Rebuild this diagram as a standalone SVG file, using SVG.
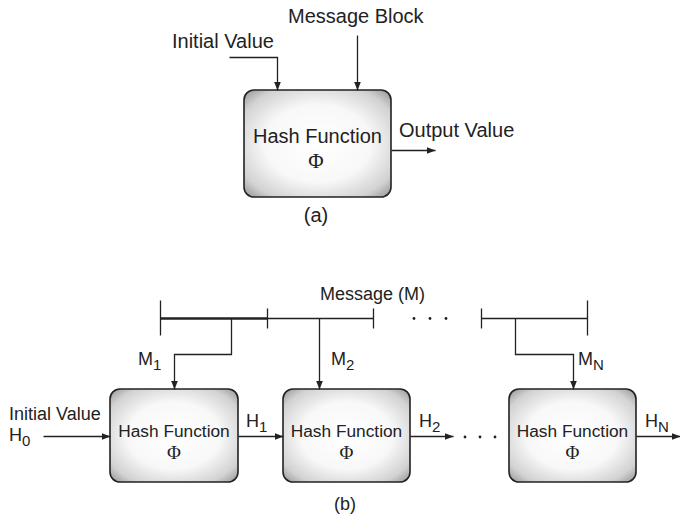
<svg xmlns="http://www.w3.org/2000/svg" width="680" height="525" viewBox="0 0 680 525">
<style>
.t{font-family:"Liberation Sans",Arial,sans-serif;fill:#222}
.a{font-size:20px}
.b{font-size:18px}
.hb{font-size:17.3px}
.s{font-size:15px}
.phi{font-family:"Liberation Serif","Times New Roman",serif;fill:#222}
.box{fill:url(#g);stroke:#222;stroke-width:1.6}
.ln{fill:none;stroke:#222;stroke-width:1.3}
.th{fill:none;stroke:#222;stroke-width:2.4}
</style>
<defs>
<radialGradient id="g" cx="0.5" cy="0.5" r="0.72">
<stop offset="0" stop-color="#ffffff"/>
<stop offset="0.5" stop-color="#f8f8f8"/>
<stop offset="0.8" stop-color="#d2d2d2"/>
<stop offset="1" stop-color="#8a8a8a"/>
</radialGradient>
<marker id="ar" markerWidth="9" markerHeight="7" refX="9" refY="3.5" orient="auto" markerUnits="userSpaceOnUse">
<path d="M0,0 L9,3.5 L0,7 Z" fill="#222"/>
</marker>
</defs>

<g id="nodeA">
<rect class="box" x="244" y="90" width="147" height="107" rx="10"/>
<text class="t a" x="317.5" y="143" text-anchor="middle">Hash Function</text>
<text class="phi" x="316" y="168" font-size="21" text-anchor="middle">Φ</text>
</g>
<g id="labelsA">
<text class="t a" x="172" y="48">Initial Value</text>
<text class="t a" x="288" y="23">Message Block</text>
<text class="t a" x="399" y="137">Output Value</text>
<text class="t a" x="316" y="222" text-anchor="middle">(a)</text>
</g>

<g id="box1">
<rect class="box" x="110" y="389" width="128" height="93" rx="10"/>
<text class="t hb" x="174" y="437" text-anchor="middle">Hash Function</text>
<text class="phi" x="174" y="459" font-size="19" text-anchor="middle">Φ</text>
</g>
<g id="box2">
<rect class="box" x="283" y="389" width="127" height="93" rx="10"/>
<text class="t hb" x="346.5" y="437" text-anchor="middle">Hash Function</text>
<text class="phi" x="346.5" y="459" font-size="19" text-anchor="middle">Φ</text>
</g>
<g id="box3">
<rect class="box" x="509" y="389" width="127" height="93" rx="10"/>
<text class="t hb" x="572.5" y="437" text-anchor="middle">Hash Function</text>
<text class="phi" x="572.5" y="459" font-size="19" text-anchor="middle">Φ</text>
</g>

<g id="labelsB">
<text class="t b" x="320" y="300">Message (M)</text>
<text class="t b" x="138" y="365">M<tspan class="s" dy="5">1</tspan></text>
<text class="t b" x="331" y="365">M<tspan class="s" dy="5">2</tspan></text>
<text class="t b" x="578" y="365">M<tspan class="s" dy="5">N</tspan></text>
<text class="t b" x="9" y="420">Initial Value</text>
<text class="t b" x="9" y="441">H<tspan class="s" dy="5">0</tspan></text>
<text class="t b" x="246" y="427">H<tspan class="s" dy="5">1</tspan></text>
<text class="t b" x="419" y="427">H<tspan class="s" dy="5">2</tspan></text>
<text class="t b" x="645" y="427">H<tspan class="s" dy="5">N</tspan></text>
<text class="t b" x="345" y="510" text-anchor="middle">(b)</text>
<g fill="#222">
<circle cx="414" cy="318.5" r="1.4"/><circle cx="430" cy="318.5" r="1.4"/><circle cx="446" cy="318.5" r="1.4"/>
<circle cx="465" cy="437" r="1.4"/><circle cx="480" cy="437" r="1.4"/><circle cx="495" cy="437" r="1.4"/>
</g>
</g>

<g id="connectors" transform="translate(0.5,0.5)">
<path class="ln" d="M229,57 H277 V90" marker-end="url(#ar)"/>
<path class="ln" d="M357,35 V90" marker-end="url(#ar)"/>
<path class="ln" d="M391,150 H435" marker-end="url(#ar)"/>

<path class="th" d="M160,318 H267"/>
<path class="ln" d="M267,318 H373"/>
<path class="ln" d="M481,318 H587"/>
<path class="ln" d="M160,300 V335 M267,308 V328 M373,308 V328 M481,308 V328 M587,300 V335"/>
<path class="ln" d="M231,318 V354 H174 V389" marker-end="url(#ar)"/>
<path class="ln" d="M319,318 V389" marker-end="url(#ar)"/>
<path class="ln" d="M515,318 V354 H573 V389" marker-end="url(#ar)"/>
<path class="ln" d="M43,436 H110" marker-end="url(#ar)"/>
<path class="ln" d="M238,436 H283" marker-end="url(#ar)"/>
<path class="ln" d="M410,436 H453" marker-end="url(#ar)"/>
<path class="ln" d="M636,436 H680" marker-end="url(#ar)"/>
</g>
</svg>
